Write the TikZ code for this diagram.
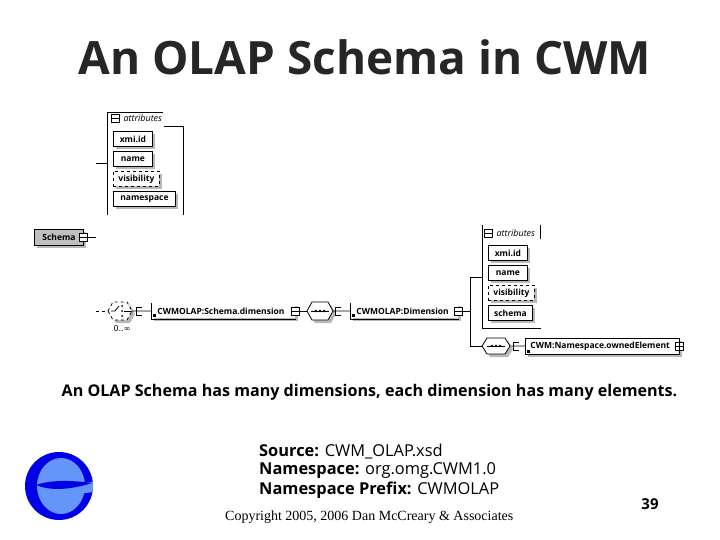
\documentclass[tikz,border=0pt]{standalone}
\usepackage{fontspec}
\setmainfont{Open Sans}
\newfontfamily\serifcopy{Liberation Serif}
\newfontfamily\symfont{DejaVu Sans}
\usepackage{tikz}
\usetikzlibrary{
  arrows.meta,
  positioning,
  shadows
}
\definecolor{logoblue}{RGB}{0,0,230}
\definecolor{logolight}{RGB}{100,150,250}
\tikzset{
  elemshadow/.style={general shadow={fill=black!28, shadow xshift=3pt, shadow yshift=-3pt}},
  attrbox/.style={draw, line width=0.9pt, fill=white, elemshadow, anchor=north west, inner sep=0pt,
    minimum height=15pt, font=\fontsize{8.5}{10}\selectfont\bfseries},
  optbox/.style={attrbox, dashed},
  elembox/.style={attrbox, text width=#1, align=left, font=\fontsize{8.5}{10}\selectfont\bfseries},
  dimbox/.style={elembox=#1, draw=none},
  rootbox/.style={attrbox, fill=black!25},
  expbox/.style={draw, line width=0.7pt, fill=white, minimum size=8pt, inner sep=0pt},
  wire/.style={line width=0.8pt},
  groupline/.style={line width=0.9pt},
  grouptext/.style={anchor=west, font=\fontsize{9}{10}\selectfont\itshape},
  captext/.style={anchor=west, inner sep=0pt, font=\fontsize{16.4}{18}\selectfont}
}
% octagon of a compositor, with the shadow under it
\newcommand{\compo}[5]{%
  \fill[black!28, xshift=3pt, yshift=-3pt] (#2-#4,#3) -- (#2-#4+5,#3-#5) -- (#2+#4-5,#3-#5) -- (#2+#4,#3) -- (#2+#4-5,#3+#5) -- (#2-#4+5,#3+#5) -- cycle;
  \draw[wire, fill=white, #1] (#2-#4,#3) -- (#2-#4+5,#3-#5) -- (#2+#4-5,#3-#5) -- (#2+#4,#3) -- (#2+#4-5,#3+#5) -- (#2-#4+5,#3+#5) -- cycle;}
\newcommand{\seqdots}[1]{%
  \draw[wire] ([xshift=-9pt]#1) -- ([xshift=9pt]#1);
  \foreach \dx in {-4,0,4} \fill ([xshift=\dx pt]#1) circle (1.4pt);}
% open connector on the right of a compositor
\newcommand{\connbox}[2]{%
  \draw[wire] (#1+3,#2-4) -- (#1-3,#2-4) -- (#1-3,#2+4) -- (#1+3,#2+4);}
\begin{document}
\begin{tikzpicture}[x=1pt,y=-1pt]
    \useasboundingbox[fill=white] (0,0) rectangle (720,540);

    % Title
    \node[font=\fontsize{45.9}{50}\selectfont\bfseries, text=black!85] (title) at (365,57) {An OLAP Schema in CWM};

    % Upper attributes group
    \draw[groupline] (107,215) -- (107,112) -- (163,112);
    \draw[groupline] (164,126) -- (183,126) -- (183,215);
    \node[expbox] (attrexpa) at (115,118) {};
    \draw (attrexpa.west) -- (attrexpa.east);
    \node[grouptext] (attrtexta) at (120,118) {attributes};
    \node[attrbox, minimum width=39pt] (xmia) at (113,131) {xmi.id};
    \node[attrbox, minimum width=39pt] (namea) at (113,151) {name};
    \node[optbox, minimum width=46pt] (visa) at (113,171) {visibility};
    \node[attrbox, minimum width=62pt] (nspa) at (113,191) {namespace};

    % Schema root
    \node[rootbox, minimum width=49pt, minimum height=16pt] (schema) at (34,229) {Schema};
    \node[expbox] (schemaexp) at (83,237) {};
    \draw (schemaexp.west) -- (schemaexp.east);
    \coordinate (schemaend) at (96,237);
    \coordinate (attragrp) at (96,163);
    \draw[wire] (schemaexp) -- (schemaend);
    \draw[wire] (attragrp) -- (107,163);

    % Schema.dimension chain
    \coordinate (dimstart) at (96,311);
    \draw[wire, dashed] (dimstart) -- (108,311);
    \compo{dashed}{120}{311}{12}{9}
    \draw[wire] (111,311) -- (115,311) -- (119,306);
    \foreach \ty in {306,311,316} \fill (122,\ty) circle (1pt);
    \draw[wire] (124,311) -- (132,311);
    \node[font=\symfont\fontsize{8}{10}\selectfont] (occurs) at (122,329) {0..∞};
    \node[dimbox=144pt] (schemadim) at (151,303) {\hspace*{6pt}CWMOLAP:Schema.dimension};
    \draw[wire] (schemadim.north west) -- (schemadim.south west) -- (schemadim.south east);
    \fill ([shift={(2pt,2pt)}]schemadim.south west) rectangle ++(3pt,3pt);
    \node[expbox] (schemadimexp) at (295,311) {};
    \draw (schemadimexp.west) -- (schemadimexp.east);
    \draw[wire] (132,311) -- (schemadim.west);
    \connbox{139}{311}
    \coordinate (seqa) at (320,311);
    \draw[wire] (schemadimexp) -- (307,311);
    \compo{}{320}{311}{13}{9}
    \seqdots{seqa}
    \node[dimbox=108pt] (dimension) at (350,303) {\hspace*{6pt}CWMOLAP:Dimension};
    \draw[wire] (dimension.north west) -- (dimension.south west) -- (dimension.south east);
    \fill ([shift={(2pt,2pt)}]dimension.south west) rectangle ++(3pt,3pt);
    \node[expbox] (dimensionexp) at (458,311) {};
    \draw (dimensionexp.west) -- (dimensionexp.east);
    \draw[wire] (333,311) -- (dimension.west);
    \connbox{338}{311}

    % Lower attributes group
    \draw[groupline] (482,225) -- (482,328) -- (541,328);
    \draw[groupline] (540,225) -- (540,239);
    \node[expbox] (attrexpb) at (488,233) {};
    \draw (attrexpb.west) -- (attrexpb.east);
    \node[grouptext] (attrtextb) at (493,233) {attributes};
    \node[attrbox, minimum width=39pt] (xmib) at (488,245) {xmi.id};
    \node[attrbox, minimum width=39pt] (nameb) at (488,265) {name};
    \node[optbox, minimum width=46pt] (visb) at (488,285) {visibility};
    \node[attrbox, minimum width=44pt] (schemab) at (488,305) {schema};

    % Branch to attributes and owned element
    \coordinate (seqb) at (496,346);
    \node[elembox=154pt, minimum height=16pt] (owned) at (525,338) {\hspace*{5pt}CWM:Namespace.ownedElement};
    \fill ([shift={(2pt,2pt)}]owned.south west) rectangle ++(3pt,3pt);
    \node[expbox] (ownedexp) at (679,346) {};
    \draw (ownedexp.west) -- (ownedexp.east) (ownedexp.north) -- (ownedexp.south);
    \draw[wire] (510,346) -- (owned);
    \connbox{516}{346}
    \coordinate (branch) at (470,311);
    \draw[wire] (dimensionexp) -- (branch);
    \draw[wire] (482,277) -| (470,346) -- (482,346);
    \compo{}{496}{346}{14}{8}
    \seqdots{seqb}

    % Caption and source lines
    \node[font=\fontsize{16.1}{18}\selectfont\bfseries] (caption) at (369.5,392)
      {An OLAP Schema has many dimensions, each dimension has many elements.};
    \node[captext] (source) at (259,452) {\textbf{Source:} CWM\_OLAP.xsd};
    \node[captext] (nspace) at (259,471) {\textbf{Namespace:} org.omg.CWM1.0};
    \node[captext] (prefix) at (259,490) {\textbf{Namespace Prefix:} CWMOLAP};
    \node[anchor=west, inner sep=0pt, font=\serifcopy\fontsize{14}{16}\selectfont] (copyright) at (225,517.5) {Copyright 2005, 2006 Dan McCreary \& Associates};
    \node[font=\fontsize{15}{16}\selectfont\bfseries] (pagenum) at (650,504) {39};

    % Logo
    \fill[logoblue] (59,486) circle (34);
    \fill[logolight] (61,486) ellipse (24 and 28);
    \fill[logolight] (82,483) -- (93,482) -- (93,492) -- (80,494) -- cycle;
    \fill[logoblue] (36,485) .. controls (50,480) and (70,480) .. (92,483) .. controls (70,490) and (50,491) .. (36,485) -- cycle;
\end{tikzpicture}
\end{document}
